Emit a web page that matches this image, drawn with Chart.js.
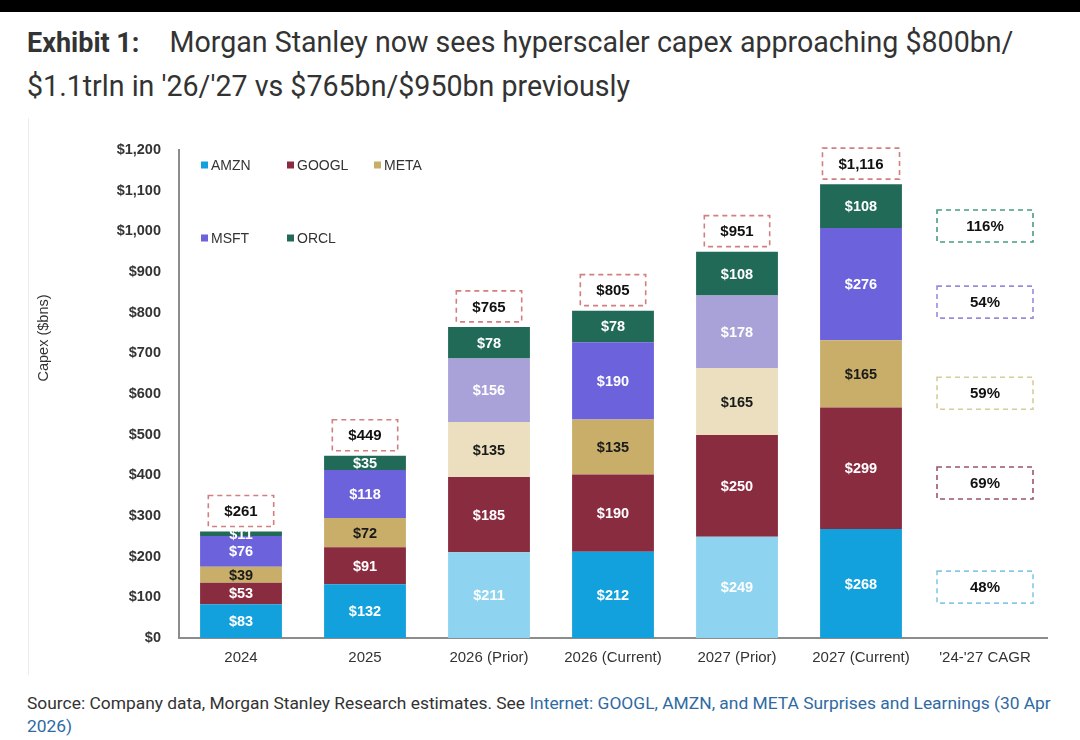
<!DOCTYPE html>
<html>
<head>
<meta charset="utf-8">
<script src="https://cdn.jsdelivr.net/npm/chart.js@4"></script>
<style>
  body { margin: 0; background: #fff; width: 1080px; height: 740px; overflow: hidden; position: relative; font-family: Roboto, "Liberation Sans", sans-serif; }
  .topbar { position: absolute; left: 0; top: 0; width: 1080px; height: 12px; background: #000; }
  .title { position: absolute; left: 27px; top: 21px; font-size: 28.6px; line-height: 43px; color: #333; width: 1050px; }
  .title b { font-size: 27px; margin-right: 30px; }
  .chartbox { position: absolute; left: 28px; top: 118px; width: 1052px; height: 557px; border-left: 1px solid #ececec; }
  .source { position: absolute; left: 27px; top: 692px; font-size: 17.4px; line-height: 23px; color: #333; width: 1045px; }
  .source span { color: #2f6aa3; }
</style>
</head>
<body>
<div class="topbar"></div>
<div class="title"><b>Exhibit 1:</b>Morgan Stanley now sees hyperscaler capex approaching $800bn/<br>$1.1trln in '26/'27 vs $765bn/$950bn previously</div>
<div class="chartbox"><canvas id="capexChart" width="1052" height="557"></canvas></div>
<div class="source">Source: Company data, Morgan Stanley Research estimates. See <span>Internet: GOOGL, AMZN, and META Surprises and Learnings (30 Apr<br>2026)</span></div>

<script>
// chart data
const categories = ["2024", "2025", "2026 (Prior)", "2026 (Current)", "2027 (Prior)", "2027 (Current)", "'24-'27 CAGR"];
const amzn  = [83, 132, 211, 212, 249, 268, null];
const googl = [53, 91, 185, 190, 250, 299, null];
const meta  = [39, 72, 135, 135, 165, 165, null];
const msft  = [76, 118, 156, 190, 178, 276, null];
const orcl  = [11, 35, 78, 78, 108, 108, null];
const totals = [261, 449, 765, 805, 951, 1116, null];
const cagrLabels = ["48%", "69%", "59%", "54%", "116%"]; // AMZN, GOOGL, META, MSFT, ORCL
const yTicks = [0, 100, 200, 300, 400, 500, 600, 700, 800, 900, 1000, 1100, 1200];

const priorCols = [2, 4];

// current / prior shades per series
const seriesStyle = [
    { name: "AMZN",  data: amzn,  color: "#12a1dc", prior: "#8ed3f0", text: "#fff", box: "#86c9e6" },
    { name: "GOOGL", data: googl, color: "#8a2c40", prior: "#8a2c40", text: "#fff", box: "#9c5566" },
    { name: "META",  data: meta,  color: "#c9ae6a", prior: "#ebdfbf", text: "#1a1a1a", box: "#dacb9c" },
    { name: "MSFT",  data: msft,  color: "#6b62dc", prior: "#a8a2d8", text: "#fff", box: "#958edd" },
    { name: "ORCL",  data: orcl,  color: "#216a57", prior: "#216a57", text: "#fff", box: "#4a9c84" }
];

// where the CAGR boxes sit on the value axis
const cagrAnchors = [125, 381, 602, 826, 1013];

const datasets = seriesStyle.map((s) => ({
    label: s.name,
    data: s.data,
    backgroundColor: categories.map((c, i) => priorCols.includes(i) ? s.prior : s.color),
    borderWidth: 0,
    barPercentage: 0.66,
    categoryPercentage: 1.0
}));

const fmt = (v) => "$" + v.toLocaleString("en-US");

const dashedBox = (ctx, cx, cy, w, h, color) => {
    ctx.save();
    ctx.strokeStyle = color;
    ctx.lineWidth = 1.6;
    ctx.setLineDash([5, 4]);
    ctx.strokeRect(cx - w / 2, cy - h / 2, w, h);
    ctx.restore();
};

const annotations = {
    id: "annotations",
    afterDatasetsDraw(chart) {
        const ctx = chart.ctx;
        const area = chart.chartArea;
        const y = chart.scales.y;
        const x = chart.scales.x;

        // segment value labels
        ctx.save();
        ctx.textAlign = "center";
        ctx.textBaseline = "middle";
        ctx.font = "bold 14.5px 'Liberation Sans', Arial, sans-serif";
        chart.data.datasets.forEach((ds, di) => {
            chart.getDatasetMeta(di).data.forEach((bar, i) => {
                const v = ds.data[i];
                if (v == null) return;
                ctx.fillStyle = seriesStyle[di].text;
                ctx.fillText(fmt(v), bar.x, (bar.y + bar.base) / 2 + 1);
            });
        });

        // totals in dashed boxes above each bar
        ctx.font = "bold 15px 'Liberation Sans', Arial, sans-serif";
        const topMeta = chart.getDatasetMeta(chart.data.datasets.length - 1);
        totals.forEach((t, i) => {
            if (t == null) return;
            const bar = topMeta.data[i];
            const label = fmt(t);
            const w = ctx.measureText(label).width + 32;
            const h = 31;
            const cy = bar.y - 5 - h / 2;
            dashedBox(ctx, bar.x, cy, w, h, "#d27f80");
            ctx.fillStyle = "#111";
            ctx.fillText(label, bar.x, cy + 1);
        });

        // CAGR column
        const cx = x.getPixelForValue(categories.length - 1);
        cagrLabels.forEach((lab, i) => {
            const cy = y.getPixelForValue(cagrAnchors[i]);
            dashedBox(ctx, cx, cy, 96, 32, seriesStyle[i].box);
            ctx.fillStyle = "#111";
            ctx.fillText(lab, cx, cy + 1);
        });

        // legend inside the plot
        ctx.font = "14px 'Liberation Sans', Arial, sans-serif";
        ctx.textAlign = "left";
        const legendPos = [[22, 15], [108, 15], [195, 15], [22, 88], [108, 88]];
        seriesStyle.forEach((s, i) => {
            const lx = area.left + legendPos[i][0];
            const ly = area.top + legendPos[i][1];
            ctx.fillStyle = s.color;
            ctx.fillRect(lx, ly - 3.5, 7, 7);
            ctx.fillStyle = "#333";
            ctx.fillText(s.name, lx + 10, ly + 1);
        });

        // y axis title
        ctx.translate(15, 220);
        ctx.rotate(-Math.PI / 2);
        ctx.textAlign = "center";
        ctx.font = "14.5px 'Liberation Sans', Arial, sans-serif";
        ctx.fillStyle = "#333";
        ctx.fillText("Capex ($bns)", 0, 0);
        ctx.restore();
    }
};

new Chart(document.getElementById("capexChart"), {
    type: "bar",
    data: { labels: categories, datasets },
    options: {
        responsive: false,
        animation: false,
        layout: { padding: { top: 32, right: 34, left: 0, bottom: 0 } },
        plugins: { legend: { display: false }, tooltip: { enabled: false } },
        scales: {
            x: {
                stacked: true,
                grid: { display: false, drawTicks: false },
                border: { color: "#8c8c8c", width: 2 },
                ticks: { color: "#333", font: { family: "'Liberation Sans', Arial, sans-serif", size: 15 }, padding: 11, maxRotation: 0, autoSkip: false },
                afterFit: (scale) => { scale.height = 37; }
            },
            y: {
                stacked: true,
                min: 0,
                max: 1200,
                afterBuildTicks: (scale) => { scale.ticks = yTicks.map((v) => ({ value: v })); },
                grid: { display: false, drawTicks: false },
                border: { color: "#8c8c8c", width: 2 },
                ticks: { color: "#333", font: { family: "'Liberation Sans', Arial, sans-serif", size: 14.5, weight: "bold" }, padding: 18, callback: (v) => fmt(v) },
                afterFit: (scale) => { scale.width = 150; }
            }
        }
    },
    plugins: [annotations]
});
</script>
</body>
</html>
